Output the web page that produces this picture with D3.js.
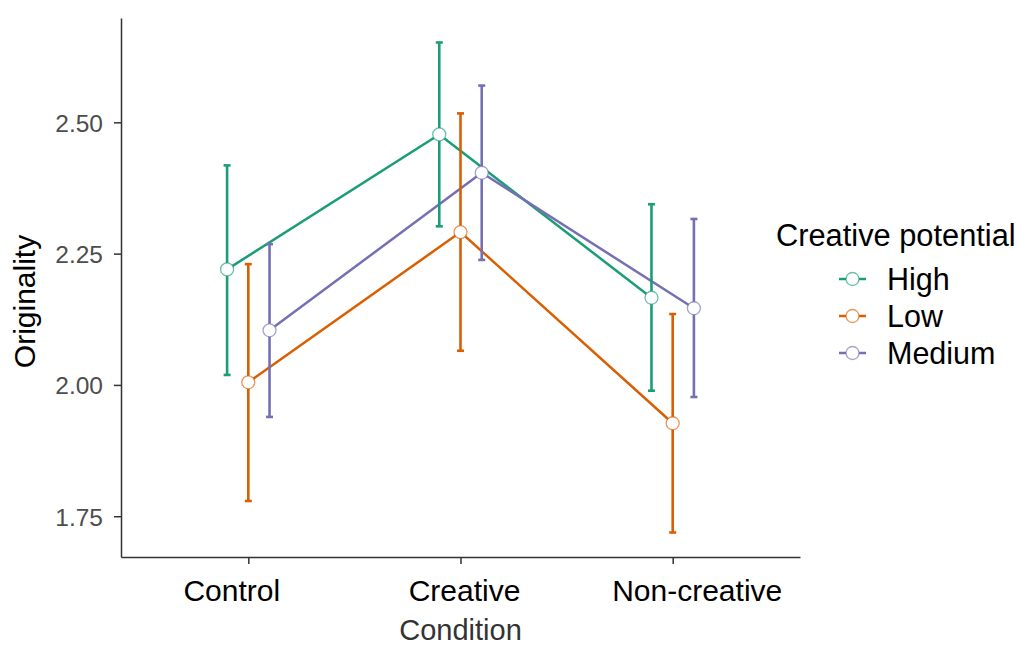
<!DOCTYPE html>
<html><head><meta charset="utf-8">
<script src="https://cdn.jsdelivr.net/npm/d3@7"></script>
<style>body{margin:0;background:#fff}svg{display:block}</style>
</head><body><svg id="c" width="1018" height="647"></svg>
<script>
// ---- data ----
const conditions = ["Control", "Creative", "Non-creative"];
const groups = ["High", "Low", "Medium"];
const groupColors = ["#1B9E77", "#D95F02", "#7570B3"];
const highMean = [2.220, 2.477, 2.166];
const highLower = [2.019, 2.302, 1.989];
const highUpper = [2.418, 2.652, 2.344];
const lowMean = [2.005, 2.291, 1.927];
const lowLower = [1.779, 2.065, 1.719];
const lowUpper = [2.230, 2.517, 2.135];
const mediumMean = [2.104, 2.404, 2.146];
const mediumLower = [1.939, 2.238, 1.977];
const mediumUpper = [2.268, 2.570, 2.316];
const yTicks = [1.75, 2.00, 2.25, 2.50];
const xTitle = "Condition", yTitle = "Originality", legendTitle = "Creative potential";

const seriesMeans = [highMean, lowMean, mediumMean];
const seriesLower = [highLower, lowLower, mediumLower];
const seriesUpper = [highUpper, lowUpper, mediumUpper];
const series = groups.map((g, gi) => ({
  name: g, color: groupColors[gi], gi,
  pts: conditions.map((c, ci) => ({c, m: seriesMeans[gi][ci], lo: seriesLower[gi][ci], hi: seriesUpper[gi][ci]}))
}));

// ---- layout ----
const font = "'Liberation Sans', Arial, sans-serif";
const svg = d3.select("#c");
svg.append("rect").attr("width", 1018).attr("height", 647).attr("fill", "#fff");
const pL = 121, pR = 800, pT = 18, pB = 557;

const allVals = [].concat(...seriesLower, ...seriesUpper);
const ext = d3.extent(allVals), padY = (ext[1] - ext[0]) * 0.05;
const y = d3.scaleLinear().domain([ext[0] - padY, ext[1] + padY]).range([pB, pT]);
const x = d3.scalePoint().domain(conditions).range([pL, pR]).padding(0.6);
const dodge = d3.scalePoint().domain(groups).range([-0.1, 0.1]);
const px = (c, g) => x(c) + dodge(g) * x.step();

// axes
const yAxis = svg.append("g").attr("transform", `translate(${pL},0)`)
  .call(d3.axisLeft(y).tickValues(yTicks).tickFormat(d3.format(".2f")).tickSize(7).tickPadding(11).tickSizeOuter(0));
yAxis.selectAll("text").attr("font-family", font).attr("font-size", 24.5).attr("fill", "#4d4d4d").attr("dy", "0.36em");
yAxis.selectAll("line").attr("stroke", "#333").attr("stroke-width", 1.5);
yAxis.select(".domain").attr("stroke", "#333").attr("stroke-width", 1.5);

const xAxis = svg.append("g").attr("transform", `translate(0,${pB})`)
  .call(d3.axisBottom(x).tickSize(7).tickPadding(16).tickSizeOuter(0));
// labels appear slightly spread relative to ticks in the reference
const labelSpread = d3.scaleLinear().domain([x(conditions[0]), x(conditions[2])]).range([-17, 24]);
xAxis.selectAll("text").attr("font-family", font).attr("font-size", 30).attr("fill", "#000")
  .attr("dx", d => labelSpread(x(d)));
xAxis.selectAll("line").attr("stroke", "#333").attr("stroke-width", 1.5);
xAxis.select(".domain").attr("stroke", "#333").attr("stroke-width", 1.5);

// titles
svg.append("text").attr("x", (pL + pR) / 2).attr("y", 640).attr("text-anchor", "middle")
  .attr("font-family", font).attr("font-size", 29).attr("fill", "#333").text(xTitle);
svg.append("text").attr("transform", `translate(35,${(pT + pB) / 2 + 14}) rotate(-90)`).attr("text-anchor", "middle")
  .attr("font-family", font).attr("font-size", 30).attr("fill", "#000").text(yTitle);

// lines
const line = d3.line().x(d => d.x).y(d => y(d.m));
series.forEach(s => {
  svg.append("path").datum(s.pts.map(p => ({x: px(p.c, s.name), m: p.m})))
    .attr("d", line).attr("fill", "none").attr("stroke", s.color).attr("stroke-width", 2.5);
});
// error bars
series.forEach(s => {
  const g = svg.append("g").attr("stroke", s.color).attr("stroke-width", 2.6);
  s.pts.forEach(p => {
    const cx = px(p.c, s.name);
    g.append("line").attr("x1", cx).attr("x2", cx).attr("y1", y(p.lo)).attr("y2", y(p.hi));
    g.append("line").attr("x1", cx - 3.5).attr("x2", cx + 3.5).attr("y1", y(p.lo)).attr("y2", y(p.lo));
    g.append("line").attr("x1", cx - 3.5).attr("x2", cx + 3.5).attr("y1", y(p.hi)).attr("y2", y(p.hi));
  });
});
// points
series.forEach(s => {
  svg.append("g").selectAll("circle").data(s.pts).join("circle")
    .attr("cx", p => px(p.c, s.name)).attr("cy", p => y(p.m)).attr("r", 6.5)
    .attr("fill", "#fff").attr("stroke", s.color).attr("stroke-opacity", 0.65).attr("stroke-width", 1.3);
});

// legend
const lg = svg.append("g");
lg.append("text").attr("x", 776).attr("y", 246).attr("font-family", font).attr("font-size", 30.8).attr("fill", "#000").text(legendTitle);
series.forEach((s, i) => {
  const cy = 279 + i * 37;
  lg.append("line").attr("x1", 839).attr("x2", 866).attr("y1", cy).attr("y2", cy).attr("stroke", s.color).attr("stroke-width", 2.5);
  lg.append("circle").attr("cx", 852.5).attr("cy", cy).attr("r", 6.5).attr("fill", "#fff")
    .attr("stroke", s.color).attr("stroke-opacity", 0.65).attr("stroke-width", 1.3);
  lg.append("text").attr("x", 887).attr("y", cy + 11).attr("font-family", font).attr("font-size", 30.5).attr("fill", "#000").text(s.name);
});
</script></body></html>
